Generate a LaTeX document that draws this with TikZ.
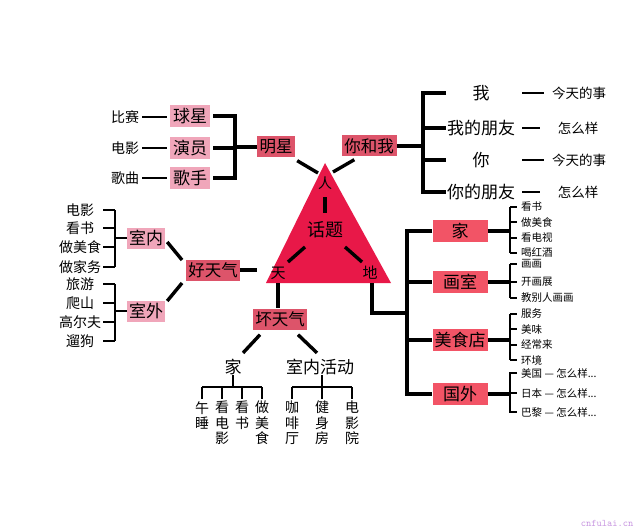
\documentclass[tikz,border=0pt]{standalone}
\usepackage{fontspec}
\newfontfamily\cjk{Noto Sans CJK SC}
\definecolor{tric}{RGB}{232,24,72}
\definecolor{midc}{RGB}{221,84,106}
\definecolor{lightc}{RGB}{240,166,186}
\definecolor{redc}{RGB}{242,84,102}
\definecolor{wmc}{RGB}{200,150,225}
\begin{document}
\begin{tikzpicture}[x=1pt,y=-1pt,
  thk/.style={line width=3.4pt},
  thn/.style={line width=1.2pt},
  f17/.style={font=\cjk\fontsize{17}{18}\selectfont, inner sep=0pt},
  mbox/.style={fill=midc, inner xsep=2pt, inner ysep=0pt, minimum height=21pt, font=\cjk\fontsize{16.5}{17}\selectfont},
  lbox/.style={fill=lightc, inner xsep=2pt, inner ysep=0pt, minimum height=22pt, font=\cjk\fontsize{17}{18}\selectfont},
  rbox/.style={fill=redc, minimum width=55pt, minimum height=22pt, inner sep=0pt, font=\cjk\fontsize{17}{18}\selectfont},
  sm/.style={font=\cjk\fontsize{14}{15}\selectfont, inner sep=0pt},
  smb/.style={font=\cjk\fontsize{13.5}{14}\selectfont, inner sep=0pt},
  xs/.style={font=\cjk\fontsize{10.5}{11}\selectfont, inner sep=0pt, anchor=west},
  vt/.style={font=\cjk\fontsize{14}{15.5}\selectfont, inner sep=0pt, align=center, anchor=north}
]
\useasboundingbox (0,0) rectangle (640,532);
\fill[white] (0,0) rectangle (640,532);

% triangle
\coordinate (top) at (325,163);
\coordinate (bl) at (266,283);
\coordinate (br) at (391,283);
\fill[tric] (top) -- (bl) -- (br) -- cycle;
\node[font=\cjk\fontsize{14}{14}\selectfont] (ren) at (325,183) {人};
\node[font=\cjk\fontsize{18}{18}\selectfont] (ht) at (325,230) {话题};
\node[font=\cjk\fontsize{15}{15}\selectfont] (tian) at (278,273) {天};
\node[font=\cjk\fontsize{15}{15}\selectfont] (di) at (370,273) {地};
\draw[thk] ([shift={(0,14)}]ren.center) -- ([shift={(0,-17)}]ht.center);
\draw[thk] ([shift={(-20,17)}]ht.center) -- ([shift={(10,-11)}]tian.center);
\draw[thk] ([shift={(20,17)}]ht.center) -- ([shift={(-8,-11)}]di.center);

% top-left
\node[lbox, minimum width=40pt] (qx) at (190,116) {球星};
\node[lbox, minimum width=40pt] (yy) at (190,148) {演员};
\node[lbox, minimum width=40pt] (gs) at (190,178) {歌手};
\node[mbox, minimum width=38pt] (mx) at (276,147) {明星};
\coordinate (v1) at (235,0);
\draw[thk] ([xshift=3pt]qx.east) -- (qx.east -| v1) -- (gs.east -| v1) -- ([xshift=3pt]gs.east);
\draw[thk] ([xshift=3pt]yy.east) -- (yy.east -| v1);
\draw[thk] (mx.west -| v1) -- (mx.west);
\node[sm] (bs) at (125,117) {比赛};
\node[sm] (dy) at (125,148) {电影};
\node[sm] (gq) at (125,178) {歌曲};
\draw[thn] ([xshift=3pt]bs.east) -- ([xshift=-3pt]qx.west |- bs.east);
\draw[thn] ([xshift=3pt]dy.east) -- ([xshift=-3pt]yy.west |- dy.east);
\draw[thn] ([xshift=3pt]gq.east) -- ([xshift=-3pt]gs.west |- gq.east);
\draw[thk] ([shift={(2,3)}]mx.south east) -- ([shift={(-7,10)}]top);

% top-right
\node[mbox, minimum width=55pt] (nhw) at (369,146) {你和我};
\draw[thk] ([shift={(13,3)}]nhw.south west) -- ([shift={(8,9)}]top);
\coordinate (v2) at (423,0);
\coordinate (v2b) at (446,0);
\node[f17] (wo) at (481,93) {我};
\node[f17] (wdpy) at (481,128) {我的朋友};
\node[f17] (ni) at (481,160) {你};
\node[f17] (ndpy) at (481,192) {你的朋友};
\draw[thk] (wo -| v2b) -- (wo -| v2) -- (ndpy -| v2) -- (ndpy -| v2b);
\draw[thk] (wdpy -| v2) -- (wdpy -| v2b);
\draw[thk] (ni -| v2) -- (ni -| v2b);
\draw[thk] (nhw.east) -- (nhw.east -| v2);
\node[smb] (s1) at (579,93) {今天的事};
\node[smb] (s2) at (578,128) {怎么样};
\node[smb] (s3) at (579,160) {今天的事};
\node[smb] (s4) at (578,192) {怎么样};
\coordinate (v2c) at (522,0);
\draw[thn] (wo -| v2c) -- ([xshift=-8pt]s1.west);
\draw[thn] (wdpy -| v2c) -- ([xshift=-18pt]s2.west);
\draw[thn] (ni -| v2c) -- ([xshift=-8pt]s3.west);
\draw[thn] (ndpy -| v2c) -- ([xshift=-18pt]s4.west);

% left-middle
\node[mbox, minimum width=53pt] (hhq) at (213,270) {好天气};
\draw[thk] (hhq.east) -- ([shift={(-9,-13)}]bl);
\node[lbox, minimum width=35pt, minimum height=21pt] (snei) at (146,238) {室内};
\node[lbox, minimum width=35pt, minimum height=21pt] (swai) at (146,311) {室外};
\draw[thk] ([shift={(2,4)}]snei.east) -- ([shift={(-4,-10)}]hhq.west);
\draw[thk] ([shift={(2,-10)}]swai.east) -- ([shift={(-4,13)}]hhq.west);
\coordinate (v5) at (115,0);
\coordinate (v6) at (103,0);
\foreach \t/\y [count=\i] in {电影/210,看书/228,做美食/247,做家务/267}{
  \node[sm] (a\i) at (80,\y) {\t};
  \draw[thn] (a\i -| v6) -- (a\i -| v5);
}
\draw[thn] (a1 -| v5) -- (a4 -| v5);
\draw[thn] (snei.west -| v5) -- (snei.west);
\foreach \t/\y [count=\i] in {旅游/284,爬山/303,高尔夫/322,遛狗/341}{
  \node[sm] (o\i) at (80,\y) {\t};
  \draw[thn] (o\i -| v6) -- (o\i -| v5);
}
\draw[thn] (o1 -| v5) -- (o4 -| v5);
\draw[thn] (swai.west -| v5) -- (swai.west);

% bottom
\node[mbox, minimum width=53pt] (hwq) at (280,319) {坏天气};
\draw[thk] ([shift={(12,0)}]bl) -- ([xshift=-2pt]hwq.north);
\node[f17] (jia2) at (233,367) {家};
\node[f17] (snhd) at (320,367) {室内活动};
\draw[thk] ([shift={(-20,5)}]hwq.south) -- ([shift={(10,-6)}]jia2.north);
\draw[thk] ([shift={(18,5)}]hwq.south) -- ([shift={(-3,-6)}]snhd.north);
\coordinate (hb) at (0,387);
\node[vt] (b1) at (202,401) {午\\睡};
\node[vt] (b2) at (222,401) {看\\电\\影};
\node[vt] (b3) at (242,401) {看\\书};
\node[vt] (b4) at (262,401) {做\\美\\食};
\draw[thn] (jia2.south) -- (jia2.south |- hb);
\draw[thn] (b1.north |- hb) -- (b4.north |- hb);
\foreach \i in {1,2,3,4} \draw[thn] (b\i.north |- hb) -- ([yshift=2pt]b\i.north);
\node[vt] (c1) at (292,401) {咖\\啡\\厅};
\node[vt] (c2) at (322,401) {健\\身\\房};
\node[vt] (c3) at (352,401) {电\\影\\院};
\draw[thn] (snhd.south -| c2) -- (c2.north |- hb);
\draw[thn] (c1.north |- hb) -- (c3.north |- hb);
\foreach \i in {1,2,3} \draw[thn] (c\i.north |- hb) -- ([yshift=2pt]c\i.north);

% right side
\coordinate (v3) at (407,313);
\draw[thk] ([xshift=-19pt]br) |- (v3);
\node[rbox] (rj) at (460,231) {家};
\node[rbox] (rh) at (460,282) {画室};
\node[rbox] (rm) at (460,340) {美食店};
\node[rbox] (rg) at (460,394) {国外};
\draw[thk] (rj.west) -- (rj.west -| v3) -- (rg.west -| v3) -- (rg.west);
\draw[thk] (rh.west -| v3) -- (rh.west);
\draw[thk] (rm.west -| v3) -- (rm.west);
\coordinate (v4) at (510,0);
\coordinate (v4b) at (517,0);
\foreach \t/\y [count=\i] in {看书/207,做美食/222,看电视/238,喝红酒/253}{
  \node[xs] (ja\i) at (521,\y) {\t};
  \draw[thn] (ja\i -| v4) -- (ja\i -| v4b);
}
\draw[thn] (ja1 -| v4) -- (ja4 -| v4);
\draw[thk] (rj.east) -- (rj.east -| v4);
\foreach \t/\y [count=\i] in {画画/264,开画展/282,教别人画画/298}{
  \node[xs] (hs\i) at (521,\y) {\t};
  \draw[thn] (hs\i -| v4) -- (hs\i -| v4b);
}
\draw[thn] (hs1 -| v4) -- (hs3 -| v4);
\draw[thk] (rh.east) -- (rh.east -| v4);
\foreach \t/\y [count=\i] in {服务/314,美味/329,经常来/345,环境/360}{
  \node[xs] (ms\i) at (521,\y) {\t};
  \draw[thn] (ms\i -| v4) -- (ms\i -| v4b);
}
\draw[thn] (ms1 -| v4) -- (ms4 -| v4);
\draw[thk] (rm.east) -- (rm.east -| v4);
\node[xs] (gw1) at (521,373) {美国 — 怎么样...};
\node[xs] (gw2) at (521,393) {日本 — 怎么样...};
\node[xs] (gw3) at (521,412) {巴黎 — 怎么样...};
\draw[thn] (gw1 -| v4b) -- (gw1 -| v4) -- (gw3 -| v4) -- (gw3 -| v4b);
\draw[thn] (gw2 -| v4) -- (gw2 -| v4b);
\draw[thk] (rg.east) -- (rg.east -| v4);

% watermark
\node[font=\ttfamily\fontsize{10}{10}\selectfont, text=wmc, inner sep=0pt] (wm) at (607,523) {cnfulai.cn};
\end{tikzpicture}
\end{document}
